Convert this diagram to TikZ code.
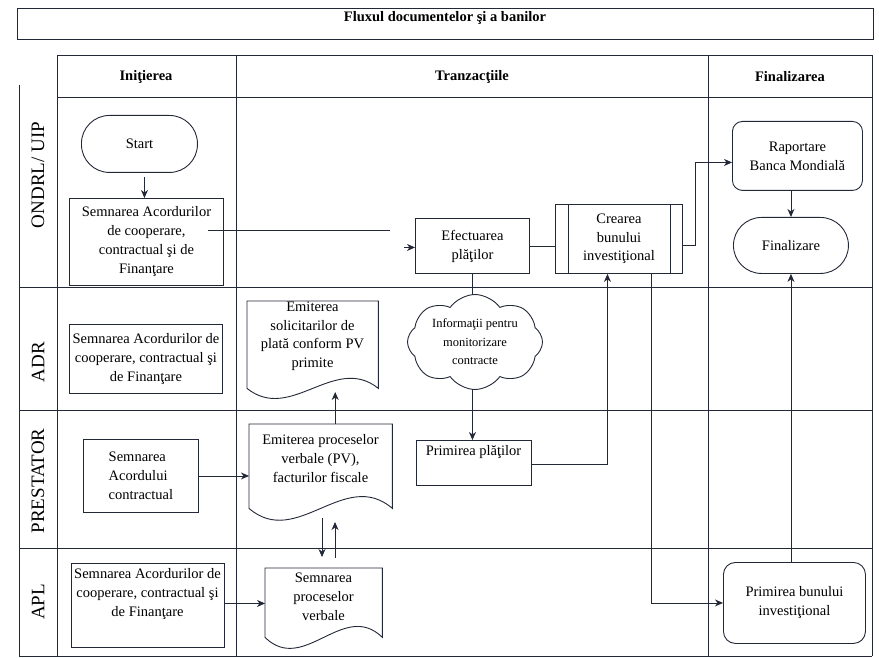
\documentclass[tikz,border=0pt]{standalone}
\usepackage{fontspec}
\setmainfont{Liberation Serif}
\usetikzlibrary{arrows.meta,shapes.symbols}
\definecolor{ink}{RGB}{35,40,55}
\begin{document}
\begin{tikzpicture}[x=1pt,y=-1pt,
  ln/.style={draw=ink, line width=0.9pt},
  arr/.style={ln, -{Stealth[length=8pt,width=7pt,inset=2.5pt]}},
  txt/.style={font=\fontsize{14.5}{19}\selectfont, align=center, inner sep=0pt, text=black},
  hdr/.style={font=\bfseries\fontsize{14.5}{17}\selectfont, inner sep=0pt},
  lanelbl/.style={font=\fontsize{19}{22}\selectfont, rotate=90, inner sep=0pt},
  box/.style={ln, rectangle, anchor=north west, inner sep=2pt, align=center, font=\fontsize{14.5}{19}\selectfont},
  ghost/.style={rectangle, anchor=north west, inner sep=0pt},
]
\useasboundingbox (0,0) rectangle (879,658);

% ---- title and grid ----
\node[ln, ghost, minimum width=856pt, minimum height=31pt] (titlebox) at (17,8) {};
\node[hdr] (title) at (445,18) {Fluxul documentelor şi a banilor};

\draw[ln] (57,55) rectangle (872,97);
\draw[ln] (57,55) -- (57,656);
\draw[ln] (236,55) -- (236,656);
\draw[ln] (708,55) -- (708,656);
\draw[ln] (872,55) -- (872,656);
\draw[ln] (19,85) -- (19,656);
\draw[ln] (19,287) -- (872,287);
\draw[ln] (19,410) -- (872,410);
\draw[ln] (19,548) -- (872,548);
\draw[ln] (19,656) -- (872,656);

\node[hdr] (h1) at (146,77) {Iniţierea};
\node[hdr] (h2) at (472,77) {Tranzacţiile};
\node[hdr] (h3) at (790,77) {Finalizarea};

\node[lanelbl] (l1) at (38,175) {ONDRL/ UIP};
\node[lanelbl] (l2) at (38,362) {ADR};
\node[lanelbl] (l3) at (38,481) {PRESTATOR};
\node[lanelbl] (l4) at (38,602) {APL};

% ---- ONDRL / UIP ----
\node[box, minimum width=116pt, minimum height=57pt, rounded corners=28pt] (start) at (81,115) {Start};
\node[box, minimum width=154pt, minimum height=87pt] (s1) at (69,198) {Semnarea Acordurilor\\de cooperare,\\contractual şi de\\Finanţare};
\node[box, minimum width=114pt, minimum height=55pt] (efect) at (415,218) {Efectuarea\\plăţilor};
\node[box, minimum width=127pt, minimum height=69pt, font=\fontsize{14.5}{18.5}\selectfont] (crear) at (555,204) {Crearea\\bunului\\investiţional};
\draw[ln] ([xshift=13pt]crear.north west) -- ([xshift=13pt]crear.south west);
\draw[ln] ([xshift=-12pt]crear.north east) -- ([xshift=-12pt]crear.south east);
\node[box, minimum width=130pt, minimum height=69pt, rounded corners=10pt] (raport) at (732,121) {Raportare\\Banca Mondială};
\node[box, minimum width=115pt, minimum height=56pt, rounded corners=28pt] (final) at (733,217) {Finalizare};

% ---- ADR ----
\node[box, minimum width=153pt, minimum height=69pt] (adr) at (69,324) {Semnarea Acordurilor de\\cooperare, contractual şi\\de Finanţare};
\node[ghost, minimum width=131pt, minimum height=87pt] (doc1) at (247,301) {};
\draw[ln] (doc1.north west) -- (doc1.north east) -- (doc1.south east)
  .. controls +(-43.7,-35) and +(43.7,35) .. (doc1.south west) -- cycle;
\node[txt, font=\fontsize{14.5}{18.5}\selectfont] (doc1t) at (312.5,336) {Emiterea\\solicitarilor de\\plată conform PV\\primite};

% ---- PRESTATOR ----
\node[box, minimum width=115pt, minimum height=73pt, align=left] (pre) at (83,439) {Semnarea\\Acordului\\contractual};
\node[ghost, minimum width=143pt, minimum height=84pt] (emproc) at (249,424) {};
\draw[ln] (emproc.north west) -- (emproc.north east) -- (emproc.south east)
  .. controls +(-47.7,-41) and +(47.7,41) .. (emproc.south west) -- cycle;
\node[txt] (emproct) at (320.5,459) {Emiterea proceselor\\verbale (PV),\\facturilor fiscale};
\node[box, minimum width=115pt, minimum height=45pt] (pplati) at (416,440) {};
\node[txt] (pplatit) at (473.5,452) {Primirea plăţilor};

% ---- APL ----
\node[box, minimum width=153pt, minimum height=84pt] (apl) at (71,563) {};
\node[txt] (aplt) at (147.5,594) {Semnarea Acordurilor de\\cooperare, contractual şi\\de Finanţare};
\node[ghost, minimum width=117pt, minimum height=69pt] (semnproc) at (265,568) {};
\draw[ln] (semnproc.north west) -- (semnproc.north east) -- (semnproc.south east)
  .. controls +(-39,-38) and +(39,38) .. (semnproc.south west) -- cycle;
\node[txt] (semnproct) at (323.5,597) {Semnarea\\proceselor\\verbale};
\node[box, minimum width=142pt, minimum height=81pt, rounded corners=12pt] (primbun) at (723,562) {Primirea bunului\\investiţional};

% ---- connectors ----
\draw[arr] ([xshift=5pt,yshift=-4pt]start.south) -- ([xshift=5pt]start.south |- s1.north);
\coordinate (c1) at (208,230);
\coordinate (c2) at (390,230);
\draw[ln] (c1) -- (c2);
\draw[arr] ([xshift=-11pt,yshift=-1.5pt]efect.west) -- ([yshift=-1.5pt]efect.west);
\draw[ln] (efect.east) -- (efect.east -| crear.west);
\coordinate (k1) at (695,245);
\draw[arr] (crear.east |- k1) -- (k1) |- ([yshift=-6.5pt]raport.west);
\draw[arr] (final.north |- raport.south) -- (final.north);
\draw[arr] (efect.south) -- (efect.south |- pplati.north);
\draw[arr] ([yshift=-1.5pt]pplati.east) -| ([xshift=-11.5pt]crear.south);
\draw[arr] ([xshift=32.5pt]crear.south) |- (primbun.west);
\draw[arr] (final.south |- primbun.north) -- (final.south);
\draw[arr] (pre.east) -- (pre.east -| emproc.west);
\draw[arr] ([xshift=14.5pt]emproc.north) -- ++(0,-32);
\coordinate (d1) at (322,518);
\coordinate (d2) at (322,557);
\coordinate (u1) at (335,558);
\coordinate (u2) at (335,522);
\draw[arr] (d1) -- (d2);
\draw[arr] (u1) -- (u2);
\draw[arr] ([yshift=2pt]apl.east) -- ([yshift=2pt]apl.east -| semnproc.west);

% cloud on top of the vertical line
\node[cloud, ln, fill=white, cloud puffs=8, cloud puff arc=110, cloud ignores aspect, minimum width=135pt, minimum height=95pt, inner sep=0pt, align=center, font=\fontsize{12.5}{18.5}\selectfont] (cloud) at (475,342) {Informaţii pentru\\monitorizare\\contracte};
\end{tikzpicture}
\end{document}
